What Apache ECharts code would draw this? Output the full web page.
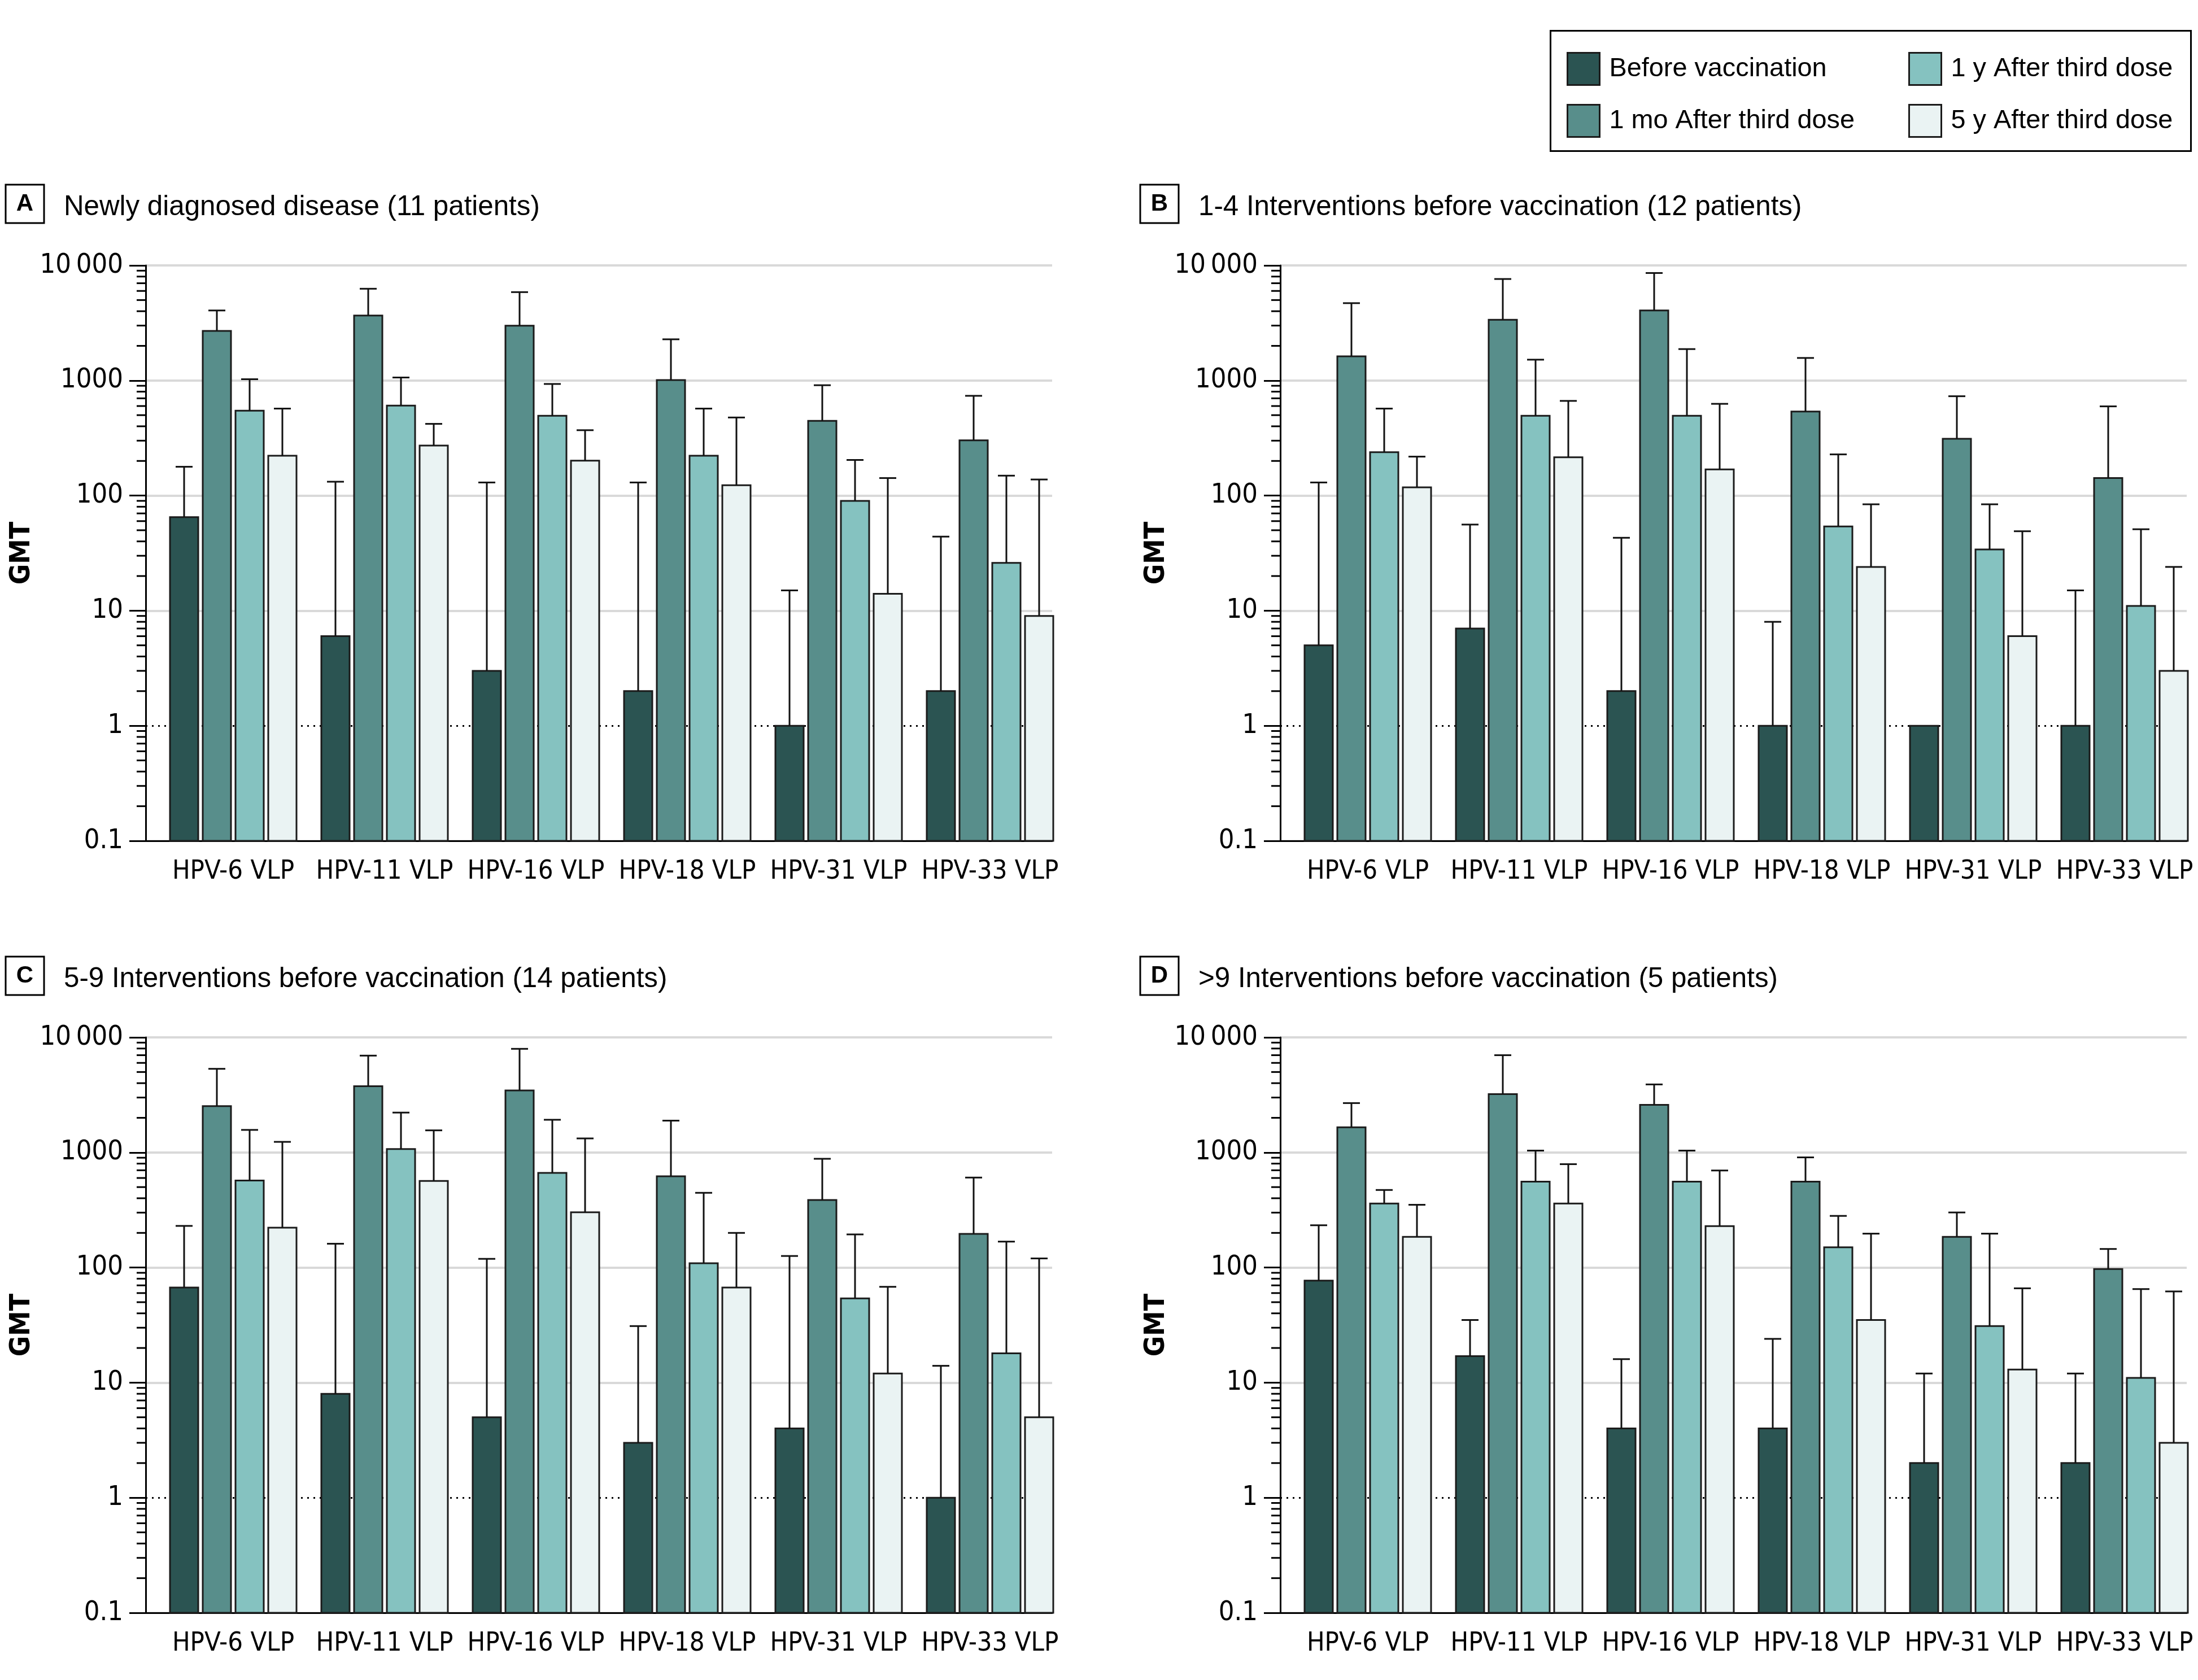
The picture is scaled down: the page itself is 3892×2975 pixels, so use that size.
<!DOCTYPE html>
<html>
<head>
<meta charset="utf-8">
<script src="https://cdn.jsdelivr.net/npm/echarts@6/dist/echarts.min.js"></script>
<style>
html,body{margin:0;padding:0;background:#ffffff;}
#chart{width:3892px;height:2975px;}
</style>
</head>
<body>
<div id="chart"></div>
<script>
// ---------------- DATA ----------------
const categories = ['HPV-6 VLP', 'HPV-11 VLP', 'HPV-16 VLP', 'HPV-18 VLP', 'HPV-31 VLP', 'HPV-33 VLP'];
const seriesNames = ['Before vaccination', '1 mo After third dose', '1 y After third dose', '5 y After third dose'];
const panelLetters = ['A', 'B', 'C', 'D'];
const panelTitles = [
  'Newly diagnosed disease (11 patients)',
  '1-4 Interventions before vaccination (12 patients)',
  '5-9 Interventions before vaccination (14 patients)',
  '>9 Interventions before vaccination (5 patients)'
];
const tickLabels = ['0.1', '1', '10', '100', '1000', '10\u2009000'];
const tickExponents = [-1, 0, 1, 2, 3];
const minorTickSteps = [2, 3, 4, 5, 6, 7, 8, 9];

// Panel A: newly diagnosed disease
const aBefore = [65, 6, 3, 2, 1, 2];
const aBeforeUpper = [178, 132, 130, 130, 15, 44];
const aMonth1 = [2700, 3670, 2990, 1010, 446, 302];
const aMonth1Upper = [4060, 6270, 5860, 2280, 910, 736];
const aYear1 = [547, 605, 494, 222, 90, 26];
const aYear1Upper = [1026, 1062, 933, 570, 204, 149];
const aYear5 = [222, 272, 201, 123, 14, 9];
const aYear5Upper = [570, 420, 370, 477, 142, 138];

// Panel B: 1-4 interventions
const bBefore = [5, 7, 2, 1, 1, 1];
const bBeforeUpper = [130, 56, 43, 8, null, 15];
const bMonth1 = [1622, 3370, 4060, 538, 312, 142];
const bMonth1Upper = [4700, 7620, 8590, 1570, 730, 596];
const bYear1 = [238, 494, 494, 54, 34, 11];
const bYear1Upper = [570, 1517, 1875, 228, 84, 51];
const bYear5 = [118, 215, 169, 24, 6, 3];
const bYear5Upper = [218, 665, 627, 84, 49, 24];

// Panel C: 5-9 interventions
const cBefore = [67, 8, 5, 3, 4, 1];
const cBeforeUpper = [230, 161, 119, 31, 126, 14];
const cMonth1 = [2525, 3765, 3460, 621, 386, 196];
const cMonth1Upper = [5330, 6940, 7950, 1890, 881, 605];
const cYear1 = [570, 1070, 665, 109, 54, 18];
const cYear1Upper = [1570, 2220, 1923, 446, 194, 168];
const cYear5 = [222, 566, 302, 67, 12, 5];
const cYear5Upper = [1236, 1556, 1324, 200, 68, 120];

// Panel D: >9 interventions
const dBefore = [77, 17, 4, 4, 2, 2];
const dBeforeUpper = [233, 35, 16, 24, 12, 12];
const dMonth1 = [1655, 3210, 2595, 558, 185, 97];
const dMonth1Upper = [2685, 7000, 3900, 906, 301, 145];
const dYear1 = [360, 558, 558, 150, 31, 11];
const dYear1Upper = [472, 1038, 1038, 281, 197, 65];
const dYear5 = [185, 360, 229, 35, 13, 3];
const dYear5Upper = [351, 791, 697, 197, 66, 62];

const panelValues = [
  [aBefore, aMonth1, aYear1, aYear5],
  [bBefore, bMonth1, bYear1, bYear5],
  [cBefore, cMonth1, cYear1, cYear5],
  [dBefore, dMonth1, dYear1, dYear5]
];
const panelUpper = [
  [aBeforeUpper, aMonth1Upper, aYear1Upper, aYear5Upper],
  [bBeforeUpper, bMonth1Upper, bYear1Upper, bYear5Upper],
  [cBeforeUpper, cMonth1Upper, cYear1Upper, cYear5Upper],
  [dBeforeUpper, dMonth1Upper, dYear1Upper, dYear5Upper]
];

// ---------------- STYLE / LAYOUT ----------------
const barColors = ['#2b5452', '#588e8b', '#85c2c0', '#eaf3f3'];
const Y_MIN = 0.1, Y_MAX = 10000;
const panelOrigins = [[258, 470], [2267, 470], [258, 1837], [2267, 1837]];
const PLOT_W = 1605, PLOT_H = 1019;
const BAND_OFFSET = 21, BAND_W = 268;
const GROUP_RATIO = 224 / 268, GAP_RATIO = 0.16;

const measureCtx = document.createElement('canvas').getContext('2d');
function hasFont(name) {
  const probe = 'HPV-6 VLP 10000 abcdefghijklmnopqrstuvwxyz';
  for (const g of ['monospace', 'serif']) {
    measureCtx.font = '100px ' + g;
    const a = measureCtx.measureText(probe).width;
    measureCtx.font = '100px "' + name + '", ' + g;
    const b = measureCtx.measureText(probe).width;
    if (Math.abs(a - b) > 0.5) return true;
  }
  return false;
}
const WIDE = ['Liberation Sans', 'Arial', 'DejaVu Sans'].find(hasFont) || 'sans-serif';
const NARROW = ['Liberation Sans Narrow', 'DejaVu Sans Condensed', 'Liberation Sans'].find(hasFont) || 'sans-serif';
function fit(family, weight, text, target) {
  measureCtx.font = weight + ' 100px "' + family + '"';
  return 100 * target / measureCtx.measureText(text).width;
}
const titleSize = fit(WIDE, 'normal', panelTitles[0], 843);
const legendSize = fit(WIDE, 'normal', seriesNames[0], 374) * 1.03;
const xLabelSize = fit(NARROW, 'normal', 'HPV-33 VLP', 243);
const yLabelSize = fit(NARROW, 'normal', tickLabels[5], 134) * 1.1;
const gmtSize = fit(NARROW, 'bold', 'GMT', 97) * 1.15;

const minorTickValues = [];
tickExponents.forEach(e => minorTickSteps.forEach(m => minorTickValues.push(+(m * Math.pow(10, e)).toPrecision(3))));

// ---------------- RENDERERS ----------------
function barRenderer(slot) {
  return function (params, api) {
    const cat = api.value(0), v = api.value(1), up = api.value(2);
    const band = api.size([1, 0])[0];
    const groupW = band * GROUP_RATIO;
    const barW = groupW / (4 + 3 * GAP_RATIO);
    const pitch = barW * (1 + GAP_RATIO);
    const top = api.coord([cat, v]);
    const base = api.coord([cat, Y_MIN]);
    const x = top[0] - groupW / 2 + slot * pitch;
    const cx = x + barW / 2;
    const children = [{
      type: 'rect',
      shape: { x: x, y: top[1], width: barW, height: base[1] - top[1] },
      style: { fill: api.visual('color'), stroke: '#1b1b1b', lineWidth: 3 }
    }];
    if (up !== null && up !== undefined && !isNaN(up)) {
      const u = api.coord([cat, up]);
      const capW = barW * 0.6;
      children.push({ type: 'line', shape: { x1: cx, y1: top[1], x2: cx, y2: u[1] }, style: { stroke: '#111', lineWidth: 3 } });
      children.push({ type: 'line', shape: { x1: cx - capW / 2, y1: u[1], x2: cx + capW / 2, y2: u[1] }, style: { stroke: '#111', lineWidth: 3 } });
    }
    return { type: 'group', children: children };
  };
}
function minorTickRenderer(params, api) {
  const p = api.coord([0, api.value(0)]);
  return { type: 'line', shape: { x1: p[0] - 16, y1: p[1], x2: p[0], y2: p[1] }, style: { stroke: '#000', lineWidth: 3 } };
}

// ---------------- OPTION ----------------
const grid = [], xAxis = [], yAxis = [], series = [], title = [];
panelOrigins.forEach((o, i) => {
  const ox = o[0], oy = o[1];
  const fg = 2 * i, dg = 2 * i + 1;
  grid.push({ left: ox, top: oy, width: PLOT_W, height: PLOT_H, outerBoundsMode: 'none', containLabel: false });
  grid.push({ left: ox + BAND_OFFSET, top: oy, width: 6 * BAND_W, height: PLOT_H, outerBoundsMode: 'none', containLabel: false });

  xAxis.push({
    type: 'value', gridIndex: fg, min: 0, max: 1,
    axisLine: { show: true, onZero: false, lineStyle: { color: '#000', width: 3 } },
    axisTick: { show: false }, axisLabel: { show: false }, splitLine: { show: false }
  });
  xAxis.push({
    type: 'category', gridIndex: dg, data: categories,
    axisLine: { show: false }, axisTick: { show: false }, splitLine: { show: false },
    axisLabel: { interval: 0, margin: 31, color: '#000', fontFamily: NARROW, fontSize: xLabelSize }
  });
  yAxis.push({
    type: 'log', logBase: 10, gridIndex: fg, min: Y_MIN, max: Y_MAX, splitNumber: 5,
    axisLine: { show: true, onZero: false, lineStyle: { color: '#000', width: 3 } },
    axisTick: { show: true, inside: false, length: 29, lineStyle: { color: '#000', width: 3 } },
    axisLabel: {
      margin: 40, color: '#000', fontFamily: NARROW, fontSize: yLabelSize,
      formatter: v => tickLabels[Math.round(Math.log10(v)) + 1]
    },
    splitLine: { show: true, lineStyle: { color: ['#d9d9d9', 'rgba(0,0,0,0)', '#d9d9d9', '#d9d9d9', '#d9d9d9', '#d9d9d9'], width: 4 } },
    name: 'GMT', nameLocation: 'middle', nameRotate: 90, nameGap: 194,
    nameTextStyle: { color: '#000', fontFamily: NARROW, fontWeight: 'bold', fontSize: gmtSize }
  });
  yAxis.push({ type: 'log', logBase: 10, gridIndex: dg, min: Y_MIN, max: Y_MAX, show: false });

  series.push({
    type: 'custom', xAxisIndex: fg, yAxisIndex: fg, z: 1, clip: false, silent: true,
    data: minorTickValues.map(v => [v]),
    encode: { y: 0 },
    renderItem: minorTickRenderer,
    markLine: {
      silent: true, symbol: 'none', z: 1, label: { show: false },
      lineStyle: { color: '#000', width: 3, type: [3, 8] },
      data: [{ yAxis: 1 }]
    }
  });
  seriesNames.forEach((name, s) => {
    const vals = panelValues[i][s], ups = panelUpper[i][s];
    series.push({
      type: 'custom', name: name, xAxisIndex: dg, yAxisIndex: dg, z: 10, clip: false,
      itemStyle: { color: barColors[s], borderColor: '#1b1b1b', borderWidth: 3 },
      data: categories.map((c, k) => [k, vals[k], ups[k] === null ? '-' : ups[k]]),
      encode: { x: 0, y: 1 },
      renderItem: barRenderer(s)
    });
  });

  title.push({
    text: '{b|' + panelLetters[i] + '}', left: ox - 248, top: oy - 143, padding: 0,
    textStyle: { rich: { b: {
      width: 68, height: 68, lineHeight: 68, align: 'center', verticalAlign: 'middle',
      fontFamily: WIDE, fontWeight: 'bold', fontSize: 42, color: '#000',
      borderColor: '#000', borderWidth: 3
    } } }
  });
  title.push({
    text: panelTitles[i], left: ox - 145, top: oy - 103 - 30, padding: 0,
    textStyle: { fontFamily: WIDE, fontWeight: 'normal', fontSize: titleSize, lineHeight: 60, color: '#000' }
  });
});

const legendCommon = {
  orient: 'vertical', top: 92, itemWidth: 57, itemHeight: 57, itemGap: 32, icon: 'rect',
  selectedMode: false, padding: 0,
  itemStyle: { borderColor: '#1b1b1b', borderWidth: 3 },
  textStyle: { fontFamily: WIDE, fontSize: legendSize, color: '#000', padding: [0, 0, 0, 12] }
};
const legend = [
  Object.assign({}, legendCommon, { left: 2774, data: [seriesNames[0], seriesNames[1]] }),
  Object.assign({}, legendCommon, { left: 3379, data: [seriesNames[2], seriesNames[3]] })
];

const option = {
  backgroundColor: '#ffffff',
  animation: false,
  color: barColors,
  title: title,
  legend: legend,
  grid: grid,
  xAxis: xAxis,
  yAxis: yAxis,
  series: series,
  graphic: [{
    type: 'rect', left: 2743, top: 52, silent: true,
    shape: { width: 1134, height: 213 },
    style: { fill: 'none', stroke: '#000', lineWidth: 3 }
  }]
};
const chart = echarts.init(document.getElementById('chart'), null, { renderer: 'canvas' });
chart.setOption(option);
</script>
</body>
</html>
